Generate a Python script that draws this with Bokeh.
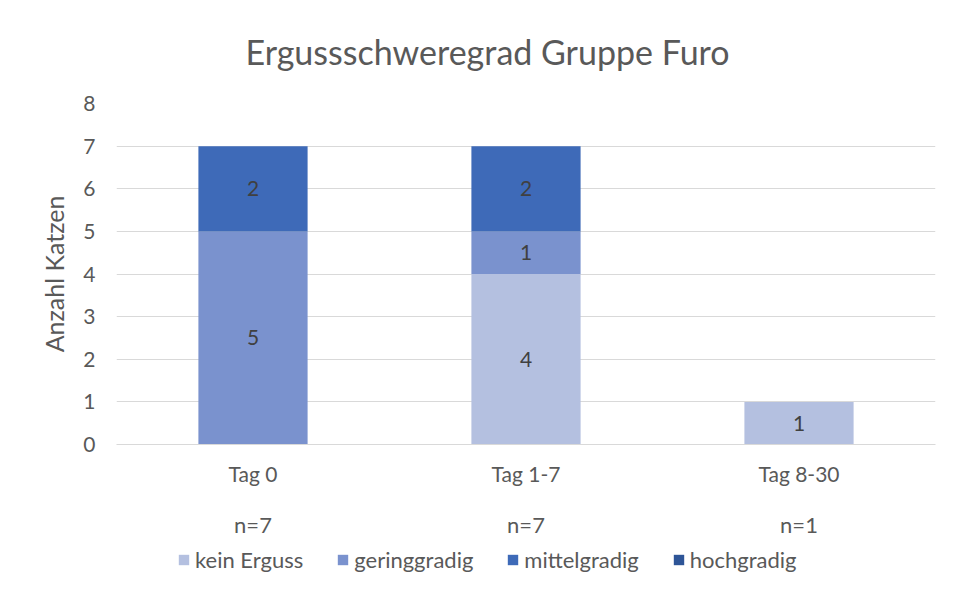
from bokeh.plotting import figure
from bokeh.layouts import column
from bokeh.models import (ColumnDataSource, FactorRange, Range1d, CategoricalAxis,
                          Legend, LegendItem, FixedTicker, CustomJSTickFormatter)
from bokeh.embed import file_html
from bokeh.resources import INLINE
from bokeh.core.properties import value

# ---- data ----
categories = ["Tag 0", "Tag 1-7", "Tag 8-30"]
n_labels = ["n=7", "n=7", "n=1"]
series = ["kein Erguss", "geringgradig", "mittelgradig", "hochgradig"]
kein_erguss = [0, 4, 1]
geringgradig = [5, 1, 0]
mittelgradig = [2, 2, 0]
hochgradig = [0, 0, 0]
y_ticks = [0, 1, 2, 3, 4, 5, 6, 7, 8]

colors = ["#B4C0E0", "#7A92CE", "#3E6AB8", "#2E5597"]
FONT = "Lato"
TXT = "#595959"

values = [kein_erguss, geringgradig, mittelgradig, hochgradig]
src = ColumnDataSource(dict(cat=categories, **{s: v for s, v in zip(series, values)}))

# value labels in the middle of each non-empty segment
lab_x, lab_y, lab_t = [], [], []
for i, c in enumerate(categories):
    bottom = 0
    for v in values:
        if v[i] > 0:
            lab_x.append(c)
            lab_y.append(bottom + v[i] / 2)
            lab_t.append(str(v[i]))
        bottom += v[i]
lsrc = ColumnDataSource(dict(x=lab_x, y=lab_y, t=lab_t))

p = figure(x_range=FactorRange(*categories), y_range=Range1d(0, max(y_ticks)),
           frame_width=819, frame_height=341, output_backend="svg", toolbar_location=None,
           min_border_left=116, min_border_right=11, min_border_top=103,
           min_border_bottom=100)

renderers = p.vbar_stack(series, x="cat", width=0.4, color=colors, source=src,
                         line_color=None)

p.text(x="x", y="y", text="t", source=lsrc, text_font=value(FONT),
       text_font_size="21px", text_color="#404040", text_align="center",
       text_baseline="middle")

# title
p.title.text = "Ergussschweregrad Gruppe Furo"
p.title.text_font = FONT
p.title.text_font_size = "34px"
p.title.text_font_style = "normal"
p.title.text_color = TXT
p.title.align = "left"
p.title.offset = 129
p.title.vertical_align = "top"
p.title.standoff = 60

# axes
p.outline_line_color = None
p.xgrid.grid_line_color = None
p.ygrid.grid_line_color = "#D9D9D9"
p.ygrid.grid_line_width = 1

p.yaxis.ticker = FixedTicker(ticks=y_ticks)
p.yaxis.axis_line_color = None
p.yaxis.major_tick_line_color = None
p.yaxis.minor_tick_line_color = None
p.yaxis.major_label_text_font = FONT
p.yaxis.major_label_text_font_size = "21px"
p.yaxis.major_label_text_color = TXT
p.yaxis.major_label_standoff = 15
p.yaxis.axis_label = "Anzahl Katzen"
p.yaxis.axis_label_text_font = FONT
p.yaxis.axis_label_text_font_size = "25px"
p.yaxis.axis_label_text_font_style = "normal"
p.yaxis.axis_label_text_color = TXT
p.yaxis.axis_label_standoff = 11

p.xaxis.axis_line_color = "#D9D9D9"
p.xaxis.major_tick_line_color = None
p.xaxis.minor_tick_line_color = None
p.xaxis.major_label_text_font = FONT
p.xaxis.major_label_text_font_size = "21px"
p.xaxis.major_label_text_color = TXT
p.xaxis.major_label_standoff = 10

ax2 = CategoricalAxis(formatter=CustomJSTickFormatter(args=dict(cats=categories, ns=n_labels),
                                                      code="return ns[cats.indexOf(tick)];"),
                      axis_line_color=None, major_tick_line_color=None,
                      minor_tick_line_color=None,
                      major_label_text_font=FONT, major_label_text_font_size="22px",
                      major_label_text_color=TXT, major_label_standoff=16)
p.add_layout(ax2, "below")

# legend strip below the chart (its bars lie outside its y range, only the legend shows)
p2 = figure(x_range=p.x_range, y_range=Range1d(100, 101), width=946, height=45,
            output_backend="svg", toolbar_location=None,
            x_axis_location=None, y_axis_location=None, min_border=0)
p2.grid.visible = False
p2.outline_line_color = None
leg_renderers = p2.vbar_stack(series, x="cat", width=0.4, color=colors, source=src,
                              line_color=None)

legend = Legend(items=[LegendItem(label=s, renderers=[r]) for s, r in zip(series, leg_renderers)],
                orientation="horizontal", location=(61, 16),
                glyph_width=13, glyph_height=13, label_standoff=5, spacing=33,
                padding=0, margin=0, border_line_color=None,
                background_fill_alpha=0,
                label_text_font=FONT, label_text_font_size="22px",
                label_text_color=TXT)
p2.add_layout(legend)

layout = column(p, p2, spacing=0)
open("out.html", "w").write(file_html(layout, INLINE))
